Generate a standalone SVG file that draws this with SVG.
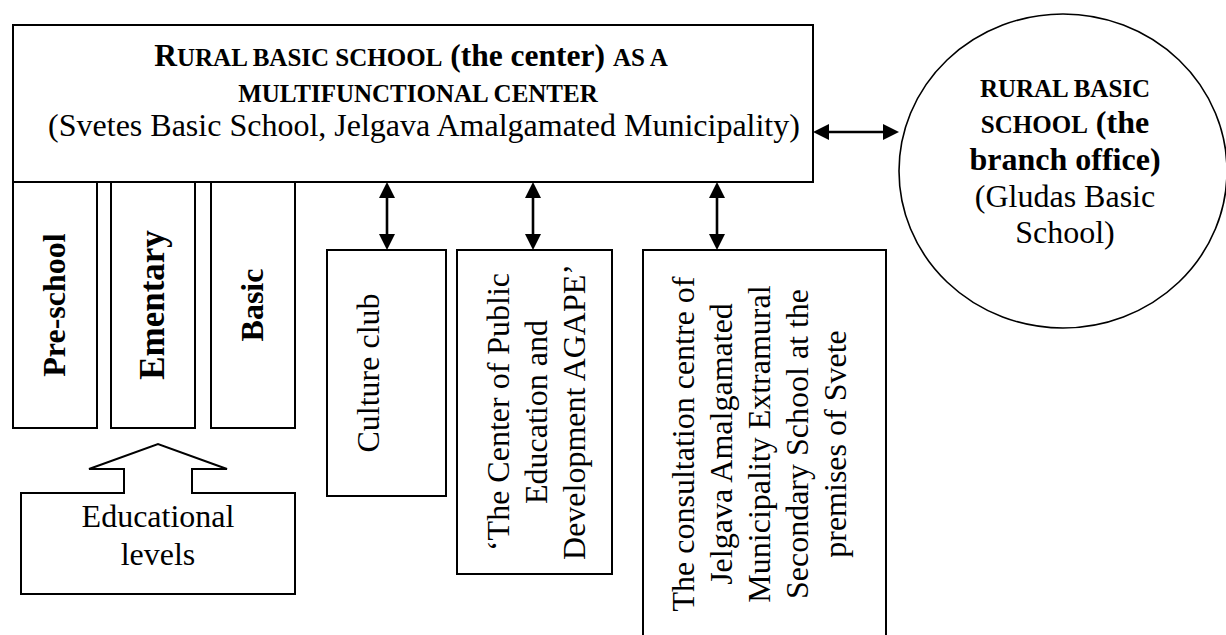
<svg xmlns="http://www.w3.org/2000/svg" width="1226" height="635" viewBox="0 0 1226 635">
<style>
  .box { fill: #fff; stroke: #000; stroke-width: 2; }
  .circ { fill: #fff; stroke: #000; stroke-width: 1.6; }
  .t { font-family: "Liberation Serif", "Times New Roman", serif; font-size: 32px; fill: #000; }
  .b { font-weight: bold; }
  .sc { font-size: 25px; }
  .conn { stroke: #000; stroke-width: 2.6; fill: none; marker-start: url(#ah); marker-end: url(#ah); }
</style>
<defs>
  <marker id="ah" markerUnits="userSpaceOnUse" markerWidth="16" markerHeight="16" viewBox="0 0 16 16" refX="0" refY="8" orient="auto-start-reverse">
    <path d="M0,0 L16,8 L0,16 Z" fill="#000"/>
  </marker>
</defs>
<rect width="1226" height="635" fill="#fff"/>

<g id="main-center">
  <rect class="box" x="13" y="25" width="800" height="157"/>
  <text class="t b" x="411" y="66" text-anchor="middle"><tspan font-size="31.5">R</tspan><tspan class="sc">URAL BASIC SCHOOL</tspan><tspan font-size="31.5"> (the center) </tspan><tspan class="sc">AS A</tspan></text>
  <text class="t b sc" x="418" y="102" text-anchor="middle">MULTIFUNCTIONAL CENTER</text>
  <text class="t" x="424" y="136" text-anchor="middle">(Svetes Basic School, Jelgava Amalgamated Municipality)</text>
</g>

<g id="branch-office">
  <ellipse class="circ" cx="1063" cy="171" rx="164" ry="157"/>
  <text class="t b sc" x="1065" y="97" text-anchor="middle">RURAL BASIC</text>
  <text class="t b" x="1065" y="133" text-anchor="middle"><tspan class="sc">SCHOOL</tspan> (the</text>
  <text class="t b" x="1065" y="170" text-anchor="middle">branch office)</text>
  <text class="t" x="1065" y="207" text-anchor="middle">(Gludas Basic</text>
  <text class="t" x="1065" y="243" text-anchor="middle">School)</text>
</g>

<g id="preschool">
  <rect class="box" x="13" y="182" width="84" height="246"/>
  <text class="t b" transform="translate(65,305) rotate(-90)" text-anchor="middle">Pre-school</text>
</g>
<g id="elementary">
  <rect class="box" x="111" y="182" width="84" height="246"/>
  <text class="t b" font-size="35" style="font-size:35px" transform="translate(164,305) rotate(-90)" text-anchor="middle">Ementary</text>
</g>
<g id="basic">
  <rect class="box" x="211" y="182" width="84" height="246"/>
  <text class="t b" transform="translate(263,305) rotate(-90)" text-anchor="middle">Basic</text>
</g>

<g id="educational-levels">
  <path class="box" d="M21,493 H124 V469 H89 L158,444 L227,469 H192 V493 H295 V594 H21 Z"/>
  <text class="t" x="158" y="527" text-anchor="middle">Educational</text>
  <text class="t" x="158" y="565" text-anchor="middle">levels</text>
</g>

<g id="culture-club">
  <rect class="box" x="327" y="250" width="119" height="246"/>
  <text class="t" transform="translate(379,373) rotate(-90)" text-anchor="middle">Culture club</text>
</g>

<g id="agape">
  <rect class="box" x="457" y="250" width="155" height="324"/>
  <text class="t" transform="translate(509,412) rotate(-90)" text-anchor="middle">‘The Center of Public</text>
  <text class="t" transform="translate(547,412) rotate(-90)" text-anchor="middle">Education and</text>
  <text class="t" transform="translate(585,412) rotate(-90)" text-anchor="middle">Development AGAPE’</text>
</g>

<g id="consultation-centre">
  <path class="box" d="M643,640 V250 H886 V640"/>
  <text class="t" transform="translate(694,444) rotate(-90)" text-anchor="middle">The consultation centre of</text>
  <text class="t" transform="translate(732,444) rotate(-90)" text-anchor="middle">Jelgava Amalgamated</text>
  <text class="t" transform="translate(770,444) rotate(-90)" text-anchor="middle">Municipality Extramural</text>
  <text class="t" transform="translate(808,444) rotate(-90)" text-anchor="middle">Secondary School at the</text>
  <text class="t" transform="translate(846,444) rotate(-90)" text-anchor="middle">premises of Svete</text>
</g>

<g id="connectors">
  <line class="conn" x1="387" y1="198" x2="387" y2="234"/>
  <line class="conn" x1="533" y1="198" x2="533" y2="234"/>
  <line class="conn" x1="717" y1="198" x2="717" y2="234"/>
  <line class="conn" x1="829" y1="132" x2="883" y2="132"/>
</g>
</svg>
